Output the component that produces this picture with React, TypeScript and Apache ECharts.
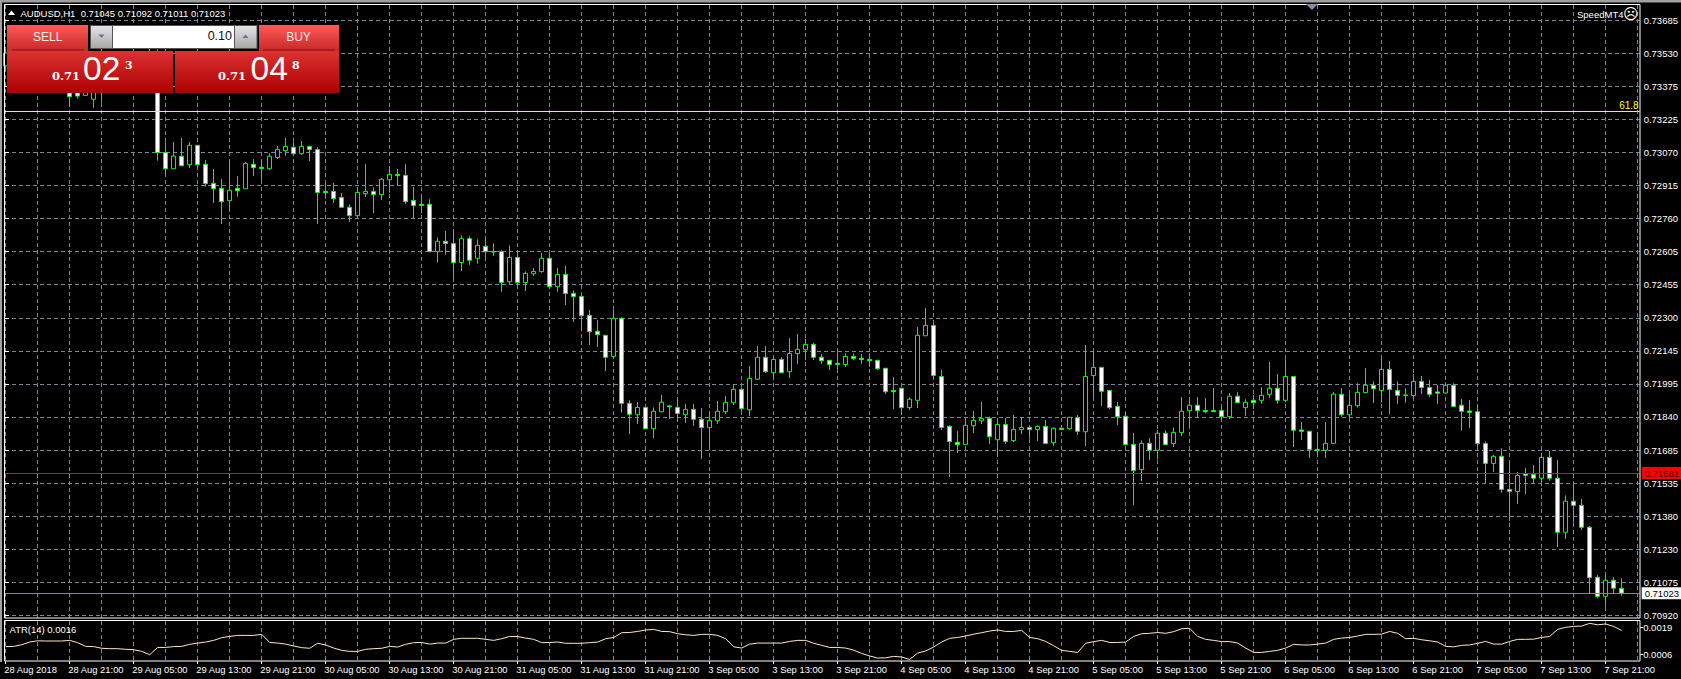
import React, { useEffect, useRef } from "react";
import * as echarts from "echarts";

// Prices are kept in broker points (1 point = 0.00001).
const opens = [
  73473,73530,73500,73470,73510,73540,73520,73470,73390,73360,
  73336,73318,73360,73390,73420,73450,73430,73480,73520,73530,
  73071,72995,73053,73014,73104,73016,72927,72904,72847,72904,
  72902,73016,73002,72995,73047,73079,73095,73065,73099,73084,
  72890,72890,72862,72816,72777,72879,72889,72875,72944,72969,
  72964,72848,72830,72830,72610,72658,72648,72559,72670,72579,
  72635,72611,72610,72470,72583,72466,72507,72517,72579,72447,
  72504,72416,72402,72314,72240,72221,72122,72300,71905,71852,
  71886,71787,71866,71893,71886,71852,71877,71831,71792,71824,
  71866,71908,71970,71875,72017,72119,72047,72109,72052,72136,
  72154,72179,72119,72105,72091,72085,72123,72114,72109,72105,
  72068,71965,71975,71885,71919,72219,72267,72030,71798,71724,
  71713,71801,71824,71835,71736,71807,71732,71783,71793,71783,
  71798,71722,71789,71787,71838,71773,72034,72072,71965,71891,
  71845,71714,71597,71719,71687,71766,71718,71769,71871,71896,
  71872,71872,71872,71843,71938,71885,71919,71919,71947,71975,
  71919,72030,71781,71775,71691,71687,71719,71947,71852,71894,
  71955,71989,71964,72063,71965,71944,71941,72007,71979,71958,
  71953,71989,71896,71869,71866,71718,71626,71659,71505,71495,
  71577,71575,71557,71654,71557,71306,71450,71431,71329,71097,
  71008,71083,71045,
];
const highs = [
  73561,73570,73540,73520,73560,73590,73550,73490,73410,73390,
  73400,73410,73420,73430,73470,73490,73500,73540,73560,73550,
  73118,73119,73138,73119,73104,73036,72994,72947,73036,72961,
  73026,73040,73036,73067,73101,73138,73119,73124,73101,73095,
  72932,72929,72882,72830,72904,73017,72909,72952,73008,72994,
  73017,72910,72868,72853,72676,72706,72701,72686,72681,72667,
  72669,72648,72617,72639,72614,72518,72534,72604,72604,72534,
  72543,72430,72402,72339,72292,72221,72339,72305,71920,71911,
  71886,71886,71944,71897,71920,71902,71902,71883,71862,71916,
  71939,71995,71979,72078,72171,72171,72119,72119,72208,72227,
  72204,72185,72134,72105,72142,72137,72137,72134,72137,72106,
  72068,72027,71975,71933,72260,72348,72281,72060,71803,71776,
  71835,71869,71911,71843,71837,71837,71851,71840,71800,71803,
  71828,71793,71790,71840,71851,72176,72145,72072,71967,71911,
  71862,71767,71733,71744,71780,71780,71793,71934,71924,71934,
  71930,71976,71893,71953,71958,71924,71944,71979,72097,72041,
  72110,72032,71818,71775,71770,71818,71958,71975,71947,71998,
  72069,72007,72114,72102,72007,71975,72040,72032,72014,71990,
  72003,71998,71925,71921,71897,71728,71666,71696,71640,71586,
  71605,71618,71673,71684,71642,71477,71533,71460,71335,71107,
  71112,71097,71092,
];
const lows = [
  73449,73470,73450,73440,73480,73510,73450,73370,73284,73321,
  73336,73279,73302,73350,73390,73400,73410,73450,73490,73033,
  72966,72995,73009,72999,72999,72912,72836,72738,72800,72865,
  72902,72961,72938,72989,73040,73056,73054,73059,73031,72738,
  72856,72836,72814,72748,72771,72864,72789,72850,72884,72916,
  72831,72766,72788,72610,72559,72596,72483,72520,72549,72554,
  72579,72590,72424,72460,72455,72427,72497,72512,72438,72424,
  72362,72283,72246,72176,72167,72055,72116,71862,71762,71809,
  71787,71744,71866,71832,71820,71814,71800,71646,71688,71809,
  71855,71897,71869,71846,72017,72046,72013,72047,72023,72088,
  72106,72106,72088,72060,72064,72074,72106,72088,72074,72060,
  71948,71879,71851,71874,71883,72219,72020,71781,71563,71674,
  71713,71767,71809,71716,71657,71716,71725,71762,71741,71730,
  71718,71707,71781,71781,71758,71707,71930,71893,71879,71804,
  71713,71432,71544,71642,71645,71713,71702,71753,71795,71837,
  71859,71866,71835,71832,71908,71846,71879,71903,71931,71903,
  71910,71702,71735,71651,71657,71651,71719,71843,71828,71886,
  71955,71907,71908,71855,71902,71908,71933,71948,71934,71902,
  71953,71890,71778,71790,71705,71535,71586,71490,71357,71437,
  71484,71532,71519,71546,71237,71275,71350,71316,71022,70999,
  70960,71022,71011,
];
const closes = [
  73533,73500,73470,73510,73540,73520,73470,73390,73330,73333,
  73380,73370,73390,73420,73450,73430,73480,73520,73530,73071,
  72995,73054,73009,73104,73014,72926,72902,72842,72895,72893,
  73020,73000,72996,73053,73085,73099,73065,73099,73084,72885,
  72884,72856,72816,72777,72885,72890,72875,72946,72969,72963,
  72842,72824,72824,72610,72658,72648,72559,72670,72570,72639,
  72610,72608,72467,72583,72467,72509,72518,72579,72447,72504,
  72415,72401,72312,72238,72224,72119,72300,71905,71854,71886,
  71787,71868,71910,71889,71858,71877,71831,71793,71826,71868,
  71910,71970,71880,72021,72119,72052,72109,72047,72137,72156,
  72179,72119,72103,72086,72086,72123,72113,72108,72103,72066,
  71959,71959,71885,71924,72221,72267,72034,71793,71727,71713,
  71803,71826,71835,71750,71807,71728,71784,71793,71783,71798,
  71718,71789,71783,71840,71775,72030,72072,71961,71885,71843,
  71713,71592,71719,71687,71766,71713,71770,71868,71896,71871,
  71866,71866,71843,71938,71908,71910,71908,71942,71975,71919,
  72030,71780,71775,71691,71687,71719,71948,71852,71896,71956,
  71989,71973,72063,71969,71942,71941,72007,71979,71947,71952,
  71989,71890,71868,71863,71718,71626,71659,71505,71496,71570,
  71570,71557,71654,71557,71306,71450,71431,71329,71095,71008,
  71083,71046,71023,
];
// ATR(14), also in points.
const atrValues = [
  99,100,108,121,127,126,126,126,129,118,100,99,91,89,89,86,84,76,60,95,
  95,99,100,110,116,121,129,142,148,153,153,153,158,119,116,111,102,94,91,115,
  107,92,81,76,76,86,89,91,100,97,110,118,119,111,116,116,134,139,139,139,
  134,129,137,148,147,140,134,118,119,121,
  115,115,115,118,121,137,143,166,167,172,179,182,172,171,161,156,153,158,158,153,
  137,98,92,111,116,116,116,116,124,129,129,115,105,95,95,92,82,66,54,44,
  45,52,49,37,68,78,97,121,139,143,150,159,166,174,179,172,172,177,143,137,
  124,103,81,76,71,115,123,129,119,
  119,121,148,161,163,167,163,171,185,187,148,134,129,123,123,116,92,71,71,76,
  81,92,110,107,107,111,116,134,140,143,150,158,158,159,172,163,137,139,132,127,
  121,100,98,105,107,115,124,111,111,124,134,134,135,143,148,182,192,196,198,211,
  204,208,196,177,
];
const timeLabels = [
  "28 Aug 2018","28 Aug 21:00","29 Aug 05:00","29 Aug 13:00","29 Aug 21:00",
  "30 Aug 05:00","30 Aug 13:00","30 Aug 21:00","31 Aug 05:00","31 Aug 13:00",
  "31 Aug 21:00","3 Sep 05:00","3 Sep 13:00","3 Sep 21:00","4 Sep 05:00",
  "4 Sep 13:00","4 Sep 21:00","5 Sep 05:00","5 Sep 13:00","5 Sep 21:00",
  "6 Sep 05:00","6 Sep 13:00","6 Sep 21:00","7 Sep 05:00","7 Sep 13:00","7 Sep 21:00",
];
const priceLabels = [
  "0.73685","0.73530","0.73375","0.73225","0.73070","0.72915","0.72760","0.72605",
  "0.72455","0.72300","0.72145","0.71995","0.71840","0.71685","0.71535","0.71380",
  "0.71230","0.71075","0.70920",
];
const atrTicks = [60, 190];
const fibLevel = 73263;
const bidLevel = 71023;
const askLevel = 71581;

const BAR_COUNT = 205;
const PRICE_TOP = 0.73685;
const PRICE_STEP = 0.00153611;
const LABEL_FONT = "'Liberation Sans', Arial, sans-serif";
const GRID_COLOR = "#778899";

const categories = Array.from({ length: BAR_COUNT }, (_, i) =>
  i % 8 === 0 && timeLabels[i / 8] ? timeLabels[i / 8] : String(i)
);
const candleData = opens.map((o, i) => [o / 1e5, closes[i] / 1e5, lows[i] / 1e5, highs[i] / 1e5]);
const priceTicks = priceLabels.map((_, k) => PRICE_TOP - k * PRICE_STEP);

function gradient(a: string, b: string) {
  return new echarts.graphic.LinearGradient(0, 0, 0, 1, [
    { offset: 0, color: a },
    { offset: 1, color: b },
  ]);
}
function txt(text: string, x: number, y: number, size: number, extra: any = {}) {
  return {
    type: "text",
    x,
    y,
    z: 20,
    style: {
      text,
      fill: "#ffffff",
      fontSize: size,
      fontFamily: LABEL_FONT,
      textAlign: "left",
      textVerticalAlign: "middle",
      ...extra,
    },
  };
}
function box(x: number, y: number, width: number, height: number, fill: any, stroke?: string) {
  return {
    type: "rect",
    z: 15,
    shape: { x, y, width, height },
    style: { fill, stroke: stroke || undefined, lineWidth: stroke ? 1 : 0 },
  };
}

const graphics: any[] = [
  // window chrome and pane frames
  box(0, 0, 1681, 2.5, "#a0a0a0"),
  box(0, 0, 2, 662, "#a0a0a0"),
  { type: "rect", z: 14, shape: { x: 4.5, y: 4.5, width: 1635.5, height: 613.5 }, style: { fill: "none", stroke: "#ffffff", lineWidth: 1 } },
  { type: "rect", z: 14, shape: { x: 4.5, y: 620.5, width: 1635.5, height: 40.5 }, style: { fill: "none", stroke: "#ffffff", lineWidth: 1 } },
  // header
  { type: "polygon", z: 20, shape: { points: [[8, 15], [15, 15], [11.5, 10.5]] }, style: { fill: "#ffffff" } },
  txt("AUDUSD,H1  0.71045 0.71092 0.71011 0.71023", 20.5, 13, 9.5),
  { type: "polygon", z: 20, shape: { points: [[1306, 4], [1318, 4], [1312, 10]] }, style: { fill: "#8090a8" } },
  txt("SpeedMT4", 1577, 14, 9.5),
  txt("\u2639", 1623, 14, 15, { fontFamily: "'DejaVu Sans'" }),
  txt("ATR(14) 0.0016", 9.5, 629.5, 9.5, {}),
  // one-click trading panel
  box(7, 25, 81, 26, gradient("#ff5a5a", "#c82828")),
  box(259, 25, 80, 26, gradient("#ff5a5a", "#c82828")),
  box(7, 51, 166, 42, gradient("#dc3232", "#ae0000")),
  box(175, 51, 164, 42, gradient("#dc3232", "#ae0000")),
  box(12, 49.5, 72, 1, "#8a1010"),
  box(263, 49.5, 72, 1, "#8a1010"),
  box(90, 25, 167.5, 24, "#555555"),
  box(91, 26, 21, 22, gradient("#e4e4e4", "#a8a8a8")),
  box(113, 26, 121, 22, "#ffffff"),
  box(235, 26, 21.5, 22, gradient("#e4e4e4", "#a8a8a8")),
  { type: "polygon", z: 20, shape: { points: [[98.5, 34.5], [104.5, 34.5], [101.5, 38]] }, style: { fill: "#6470a0" } },
  { type: "polygon", z: 20, shape: { points: [[242.5, 38], [248.5, 38], [245.5, 34.5]] }, style: { fill: "#6470a0" } },
  txt("SELL", 47.7, 36.5, 12, { textAlign: "center", fill: "#fff0f0" }),
  txt("BUY", 298.5, 36.5, 12, { textAlign: "center", fill: "#fff0f0" }),
  txt("0.10", 232, 36, 12.5, { textAlign: "right", fill: "#101020" }),
  txt("0.71", 52, 75.5, 11.5, { fontFamily: "'DejaVu Serif'", fontWeight: "bold" }),
  txt("02", 83, 68.5, 33.5),
  txt("3", 125, 65, 11, { fontFamily: "'DejaVu Serif'", fontWeight: "bold" }),
  txt("0.71", 218, 75.5, 11.5, { fontFamily: "'DejaVu Serif'", fontWeight: "bold" }),
  txt("04", 250.5, 68.5, 33.5),
  txt("8", 292, 65, 11, { fontFamily: "'DejaVu Serif'", fontWeight: "bold" }),
];

const isVerticalGrid = (i: number) => i % 4 === 0;
const isLabelled = (i: number) => i % 8 === 0;
const dashed = { color: GRID_COLOR, type: [4, 3] as any, width: 1 };

const option: any = {
  animation: false,
  backgroundColor: "#000000",
  grid: [
    { left: 5, top: 5, width: 1635.5, height: 613 },
    { left: 5.7, top: 5, width: 1632, height: 613 },
    { left: 5.7, top: 621, width: 1632, height: 40 },
  ],
  xAxis: [
    {
      gridIndex: 0, type: "value", min: 0, max: 1, show: false,
    },
    {
      gridIndex: 1, type: "category", data: categories, boundaryGap: false,
      axisLine: { show: false }, axisTick: { show: false }, axisLabel: { show: false },
      splitLine: { show: true, interval: isVerticalGrid, lineStyle: dashed },
    },
    {
      gridIndex: 2, type: "category", data: categories, boundaryGap: false,
      axisLine: { show: false },
      axisTick: { show: true, interval: isLabelled, length: 3, lineStyle: { color: "#ffffff" } },
      axisLabel: {
        show: true, interval: isLabelled, align: "left", color: "#ffffff", fontSize: 9.4,
        fontFamily: LABEL_FONT, margin: 4, padding: [0, 0, 0, -1.4],
      },
      splitLine: { show: true, interval: isVerticalGrid, lineStyle: dashed },
    },
  ],
  yAxis: [
    {
      gridIndex: 0, type: "value", position: "right", min: 0.7090746, max: 0.7375607, scale: true,
      axisLine: { show: false },
      axisTick: { show: true, length: 4, lineStyle: { color: "#ffffff" }, customValues: priceTicks },
      axisLabel: {
        show: true, color: "#ffffff", fontSize: 9.5, fontFamily: LABEL_FONT, margin: 4,
        customValues: priceTicks,
        formatter: (v: number) => priceLabels[Math.round((PRICE_TOP - v) / PRICE_STEP)],
      },
      splitLine: { show: true, lineStyle: dashed },
    },
    {
      gridIndex: 1, type: "value", min: 0.7090746, max: 0.7375607, scale: true, show: false,
      splitLine: { show: false },
    },
    {
      gridIndex: 2, type: "value", position: "right", offset: 2.5, min: 29.7, max: 222.3, scale: true,
      axisLine: { show: false },
      axisTick: { show: true, length: 3, lineStyle: { color: "#ffffff" }, customValues: atrTicks },
      axisLabel: {
        show: true, color: "#ffffff", fontSize: 9.5, fontFamily: LABEL_FONT, margin: 3,
        customValues: atrTicks,
        formatter: (v: number) => (v / 1e5).toFixed(4),
      },
      splitLine: { show: false },
    },
  ],
  series: [
    {
      type: "candlestick",
      xAxisIndex: 1,
      yAxisIndex: 1,
      data: candleData,
      barWidth: 4,
      z: 3,
      itemStyle: {
        color: "#000000",
        color0: "#ffffff",
        borderColor: "#00ff00",
        borderColor0: "#00ff00",
        borderColorDoji: "#00ff00",
        borderWidth: 1,
      },
    },
    {
      type: "line",
      xAxisIndex: 0,
      yAxisIndex: 0,
      data: [[0, 0.72]],
      showSymbol: false,
      symbol: "none",
      lineStyle: { opacity: 0 },
      z: 4,
      markLine: {
        silent: true,
        symbol: ["none", "none"],
        precision: 5,
        animation: false,
        data: [
          {
            yAxis: fibLevel / 1e5,
            lineStyle: { color: "#ffff00", type: "solid", width: 1 },
            label: {
              position: "insideEndTop", distance: 1, formatter: "61.8", color: "#ffff00",
              fontSize: 10, fontFamily: LABEL_FONT,
            },
          },
          {
            yAxis: askLevel / 1e5,
            lineStyle: { color: "#ff0000", type: "solid", width: 1 },
            label: {
              position: "end", distance: 2, formatter: (askLevel / 1e5).toFixed(5), color: "#200000",
              backgroundColor: "#ff0000", padding: [1, 3, 1, 3],
              fontSize: 9.5, fontFamily: LABEL_FONT,
            },
          },
          {
            yAxis: bidLevel / 1e5,
            lineStyle: { color: GRID_COLOR, type: "solid", width: 1 },
            label: {
              position: "end", distance: 2, formatter: (bidLevel / 1e5).toFixed(5), color: "#000000",
              backgroundColor: "#ffffff", padding: [1, 3, 1, 3],
              fontSize: 9.5, fontFamily: LABEL_FONT,
            },
          },
        ],
      },
    },
    {
      type: "line",
      xAxisIndex: 2,
      yAxisIndex: 2,
      data: atrValues,
      showSymbol: false,
      symbol: "none",
      lineStyle: { color: "#ffe8c0", width: 1 },
    },
  ],
  graphic: graphics,
};

export default function App() {
  const ref = useRef<HTMLDivElement>(null);
  useEffect(() => {
    document.body.style.margin = "0";
    document.body.style.background = "#000";
    document.body.style.overflow = "hidden";
    const chart = echarts.init(ref.current!, null, { renderer: "svg" });
    chart.setOption(option);
    return () => chart.dispose();
  }, []);
  return <div ref={ref} style={{ width: 1681, height: 679 }} />;
}
